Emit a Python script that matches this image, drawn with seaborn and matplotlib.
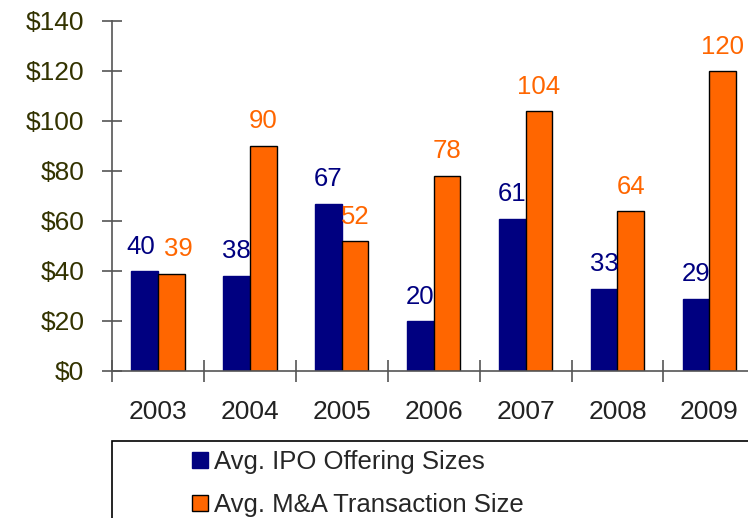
import numpy as np
import pandas as pd
import matplotlib
matplotlib.use("Agg")
import matplotlib.pyplot as plt
import seaborn as sns
from matplotlib.patches import Rectangle

years = ["2003", "2004", "2005", "2006", "2007", "2008", "2009"]
ipo_sizes = [40, 38, 67, 20, 61, 33, 29]
ma_sizes = [39, 90, 52, 78, 104, 64, 120]
series_names = ["Avg. IPO Offering Sizes", "Avg. M&A Transaction Size"]
y_ticks = [0, 20, 40, 60, 80, 100, 120, 140]

NAVY = "#000080"
ORANGE = "#FF6600"
TICK_COL = "#333300"

df = pd.DataFrame({
    "year": years * 2,
    "value": ipo_sizes + ma_sizes,
    "series": [series_names[0]] * len(years) + [series_names[1]] * len(years),
})

sns.set_style("white")
plt.rcParams["font.family"] = ["Liberation Sans", "DejaVu Sans"]

fig = plt.figure(figsize=(7.48, 5.18), dpi=100)
ax = fig.add_axes([112 / 748, 1 - 371 / 518, 1 - 112 / 748, (371 - 21) / 518])

sns.barplot(data=df, x="year", y="value", hue="series", order=years,
            hue_order=series_names, palette=[NAVY, ORANGE], width=0.58,
            saturation=1, ax=ax, legend=True)

# edges: navy bars keep their own colour, orange bars get a black outline
label_sets = []
for cont, ec, col in zip(ax.containers, [NAVY, "black"], [NAVY, ORANGE]):
    for bar in cont:
        bar.set_edgecolor(ec)
        bar.set_linewidth(1.0)
    label_sets.append(ax.bar_label(cont, padding=9, color=col, fontsize=18.5))

# the 2003 labels are pushed apart a little so they don't touch
label_sets[0][0].xyann = (-3, 9)
label_sets[1][0].xyann = (5, 9)

ax.set_xlim(-0.5, 6.42)
ax.set_ylim(0, 140)
ax.set_yticks(y_ticks)
ax.set_yticklabels([f"${v}" for v in y_ticks])
ax.set_xlabel("")
ax.set_ylabel("")

for s in ["top", "right"]:
    ax.spines[s].set_visible(False)
for s in ["left", "bottom"]:
    ax.spines[s].set_color("#555555")
    ax.spines[s].set_linewidth(1.2)

ax.tick_params(axis="y", direction="inout", length=14, width=1.2, color="#555555",
               labelsize=19, labelcolor=TICK_COL, pad=13, left=True)
ax.tick_params(axis="x", which="major", length=0, labelsize=19, labelcolor="#222222", pad=21)
ax.set_xticks(np.arange(-0.5, 6.0, 1.0), minor=True)
ax.tick_params(axis="x", which="minor", direction="inout", length=16, width=1.2,
               color="#555555", bottom=True)

# legend box (partly cut by the figure edge)
handles, labels = ax.get_legend_handles_labels()
ax.get_legend().remove()
for h, ec in zip(handles, [NAVY, "black"]):
    h.set_edgecolor(ec)
fig.legend(handles, labels, loc="upper left", bbox_to_anchor=(182 / 748, 1 - 440 / 518),
           frameon=False, fontsize=18.5, handlelength=0.6, handleheight=0.6,
           handletextpad=0.25, labelspacing=0.72, borderaxespad=0)
fig.patches.append(Rectangle((112 / 748, -0.1), 1.0, 0.1 + (518 - 441) / 518,
                             transform=fig.transFigure, fill=False,
                             edgecolor="black", linewidth=1.2, clip_on=False))

fig.savefig("out.png", dpi=100)
